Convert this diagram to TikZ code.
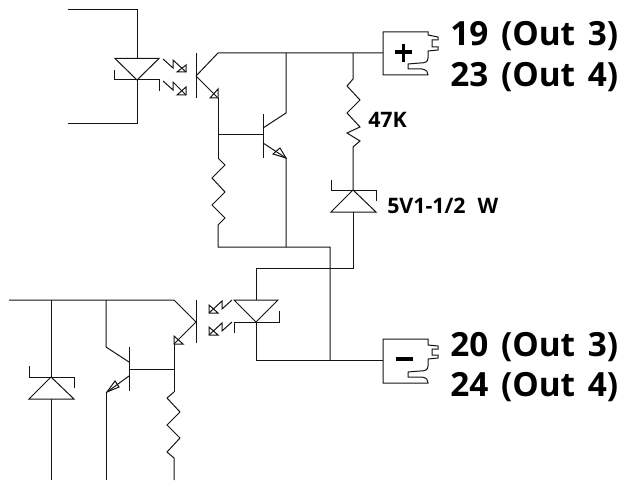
\documentclass[tikz,border=0pt]{standalone}
\usepackage{fontspec}
\setmainfont{Open Sans}
\tikzset{
  wire/.style={line width=0.75pt,color={rgb, 255:red, 20; green, 20; blue, 20 }},
  pinlabel/.style={anchor=west,inner sep=0pt,font=\fontsize{25}{28}\selectfont\bfseries,execute at begin node={\spaceskip=9.5pt\relax}},
  partlabel/.style={anchor=west,inner sep=0pt,font=\fontsize{16}{18}\selectfont\bfseries,execute at begin node={\spaceskip=9pt\relax}}
}
\begin{document}
\begin{tikzpicture}[x=0.75pt,y=0.75pt,yscale=-1,xscale=1]
        \useasboundingbox (0,0) rectangle (624,481);
        % Upper LED
        \draw [wire] (68,9.5) -- (137,9.5) -- (137,58.5) ;
        \draw [wire] (115,58.5) -- (159,58.5) -- (137,80) -- cycle ;
        \draw [wire] (114,70) -- (114,80) -- (159,80) -- (159,91) ;
        \draw [wire] (137,80) -- (137,124) -- (68,124) ;
        % Upper light arrows
        \draw [wire] (163,59) -- (173,68) -- (173,60) -- (186,72) ;
        \draw [wire] (186,65) -- (186,72) -- (177,72) -- cycle ;
        \draw [wire] (163,81) -- (173,90) -- (173,82) -- (186,95) ;
        \draw [wire] (186,87) -- (186,95) -- (177,95) -- cycle ;
        % Upper phototransistor
        \draw [wire] (196,53) -- (196,98) ;
        \draw [wire] (196,76) -- (218,53) -- (383,53) ;
        \draw [wire] (196,76) -- (218,98) ;
        \draw [wire] (218,89) -- (218,98) -- (210,98) -- cycle ;
        \draw [wire] (218,98) -- (218,158) ;
        % Darlington transistor
        \draw [wire] (218,135) -- (263,135) ;
        \draw [wire] (263,114) -- (263,158) ;
        \draw [wire] (263,128) -- (286,113) -- (286,53) ;
        \draw [wire] (263,143) -- (286,158) -- (286,247) ;
        \draw [wire] (286,158) -- (273,154) -- (280,148) -- cycle ;
        % Base resistor
        \draw [wire] (218,158) -- (225,165) -- (212,178) -- (225,192) -- (212,205) -- (225,218) -- (218,225) -- (218,247) -- (330,247) -- (330,360) ;
        % 47K resistor
        \draw [wire] (353,53) -- (353,79) -- (347,86) -- (360,100) -- (347,113) -- (360,127) -- (347,133) -- (360,141) -- (353,147) -- (353,190) ;
        % Upper zener
        \draw [wire] (331,180) -- (331,190) -- (376,190) -- (376,201) ;
        \draw [wire] (353,190) -- (331,212) -- (376,212) -- cycle ;
        \draw [wire] (353,212) -- (353,268) -- (256,268) -- (256,300) ;
        % Lower LED
        \draw [wire] (234,300) -- (278,300) -- (256,322) -- cycle ;
        \draw [wire] (234,333) -- (234,322) -- (279,322) -- (279,311) ;
        \draw [wire] (256,322) -- (256,360) -- (383,360) ;
        % Lower light arrows
        \draw [wire] (232,300) -- (222,309) -- (222,301) -- (209,313) ;
        \draw [wire] (209,305) -- (209,313) -- (218,313) -- cycle ;
        \draw [wire] (232,322) -- (222,331) -- (222,323) -- (209,335) ;
        \draw [wire] (209,327) -- (209,335) -- (218,335) -- cycle ;
        % Lower phototransistor
        \draw [wire] (196,300) -- (196,343) ;
        \draw [wire] (196,322) -- (174,300) -- (9,300) ;
        \draw [wire] (196,322) -- (174,344) ;
        \draw [wire] (174,336) -- (174,344) -- (183,344) -- cycle ;
        \draw [wire] (174,344) -- (174,392) ;
        % Lower transistor
        \draw [wire] (129,369) -- (174,369) ;
        \draw [wire] (129,347) -- (129,391) ;
        \draw [wire] (129,362) -- (106,347) -- (106,300) ;
        \draw [wire] (129,376) -- (107,392) ;
        \draw [wire] (107,392) -- (115,381) -- (119,387) -- cycle ;
        \draw [wire] (106,392) -- (106,480) ;
        % Lower resistor
        \draw [wire] (174,392) -- (167,398) -- (180,412) -- (167,425) -- (180,438) -- (167,452) -- (174,458) -- (174,480) ;
        % Lower zener
        \draw [wire] (51,300) -- (51,377) ;
        \draw [wire] (29,366) -- (29,377) -- (74,377) -- (74,388) ;
        \draw [wire] (51,377) -- (29,399) -- (74,399) -- cycle ;
        \draw [wire] (51,399) -- (51,480) ;
        % Plus connector
        \draw [wire] (383,32) -- (428,32) -- (428,35) -- (438,37) -- (438,40) -- (432,40) -- (432,47) -- (438,47) -- (438,50) -- (428,51) -- (428,58) .. controls (428,62) and (425,63) .. (420,63) -- (408,64) -- (408,69) -- (422,69) .. controls (427,70) and (428,72) .. (428,75) -- (383,75) -- cycle ;
        % Minus connector
        \draw [wire] (383,339) -- (428,339) -- (428,345) -- (438,346) -- (438,349) -- (432,349) -- (432,355) -- (438,355) -- (438,358) -- (428,359) -- (428,366) .. controls (428,370) and (425,371) .. (420,371) -- (408,372) -- (408,377) -- (422,377) .. controls (427,378) and (428,380) .. (428,383) -- (383,383) -- cycle ;
        % Polarity marks
        \draw [line width=2.6pt] (395,52) -- (412,52) ;
        \draw [line width=2.6pt] (403.5,44) -- (403.5,62) ;
        \draw [line width=3.2pt] (396,359) -- (413,359) ;
        % Text Node
        \node (pinA) [pinlabel] at (450,36) {19 (Out 3)};
        % Text Node
        \node (pinB) [pinlabel] at (450,77) {23 (Out 4)};
        % Text Node
        \node (pinC) [pinlabel] at (450,347) {20 (Out 3)};
        % Text Node
        \node (pinD) [pinlabel] at (450,387) {24 (Out 4)};
        % Text Node
        \node (resval) [partlabel] at (368,120) {47K};
        % Text Node
        \node (zenerval) [partlabel] at (387,206) {5V1-1/2 W};
\end{tikzpicture}
\end{document}
